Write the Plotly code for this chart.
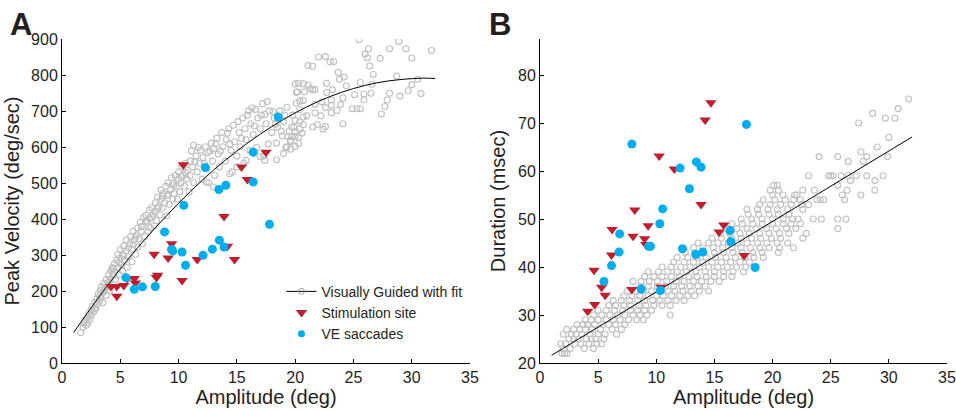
import plotly.graph_objects as go

# ---------------- Panel A data ----------------
vg_amp_a = [
    1.6, 1.8, 1.9, 2.0, 2.1, 2.2, 2.3, 2.4, 2.5, 2.5,
    2.6, 2.7, 2.8, 2.9, 3.0, 3.0, 3.1, 3.2, 3.3, 3.3,
    3.4, 3.5, 3.5, 3.6, 3.7, 3.8, 3.8, 3.9, 4.0, 4.0,
    4.1, 4.2, 4.2, 4.3, 4.4, 4.5, 4.5, 4.6, 4.7, 4.8,
    4.8, 4.9, 5.0, 5.0, 5.1, 5.2, 5.2, 5.3, 5.4, 5.5,
    5.5, 5.6, 5.7, 5.8, 5.9, 6.0, 6.0, 6.1, 6.2, 6.3,
    6.4, 6.5, 6.5, 6.6, 6.7, 6.8, 6.9, 7.0, 7.0, 7.1,
    7.2, 7.3, 7.4, 7.5, 7.5, 7.6, 7.7, 7.8, 7.9, 8.0,
    8.0, 8.1, 8.2, 8.3, 8.4, 8.5, 8.5, 8.6, 8.7, 8.8,
    8.9, 9.0, 9.0, 9.1, 9.2, 9.3, 9.4, 9.5, 9.5, 9.6,
    9.7, 9.8, 9.9, 10.0, 10.0, 10.1, 10.2, 10.3, 10.4, 10.5,
    10.6, 10.7, 10.8, 10.9, 11.0, 11.0, 11.2, 11.3, 11.3, 11.5,
    11.6, 11.8, 11.9, 12.0, 12.1, 12.3, 12.4, 12.5, 12.6, 12.8,
    12.9, 13.0, 13.1, 13.3, 13.4, 13.5, 13.7, 13.8, 14.0, 14.1,
    14.3, 14.5, 14.6, 14.7, 14.8, 15.0, 15.1, 15.2, 15.3, 15.5,
    15.6, 15.7, 15.8, 16.0, 16.1, 16.2, 16.4, 16.6, 16.7, 16.8,
    17.0, 17.2, 17.3, 17.4, 17.5, 17.7, 17.8, 18.0, 18.2, 18.4,
    18.5, 18.7, 18.9, 19.0, 19.2, 19.3, 19.5, 19.6, 19.8, 19.9,
    2.2, 2.8, 3.2, 3.6, 4.1, 4.4, 4.9, 5.3, 5.7, 6.1,
    6.3, 6.8, 7.2, 7.7, 8.2, 8.6, 9.1, 9.6, 10.2, 10.6,
    11.1, 11.4, 11.7, 12.2, 12.7, 13.2, 13.6, 14.2, 14.4, 15.4,
    15.9, 16.3, 16.5, 17.1, 17.6, 18.1, 18.3, 18.8, 19.1, 19.4,
    12.4, 13.0, 14.4, 15.0, 15.8, 17.0, 17.4, 18.4, 19.0, 19.3,
    25.5, 28.9, 26.3, 28.1, 29.5, 31.7, 26.0, 26.2, 22.0, 22.6,
    27.3, 30.0, 23.0, 23.3, 21.1, 21.5, 26.4, 23.7, 26.7, 24.2,
    23.8, 28.7, 30.5, 20.0, 20.3, 20.7, 21.1, 21.3, 21.5, 21.7,
    20.8, 20.2, 22.7, 23.2, 24.4, 25.6, 26.6, 30.0, 29.7, 30.8,
    29.0, 28.1, 27.9, 27.7, 27.4, 26.5, 25.9, 25.9, 25.1, 24.9,
    25.3, 25.6, 24.1, 23.9, 23.6, 23.1, 23.1, 23.1, 22.6, 22.3,
    21.7, 21.7, 22.2, 22.7, 24.1, 22.6, 22.4, 21.9, 21.5, 20.7,
    20.4, 20.1, 20.1, 20.4, 21.0, 20.7, 20.0, 20.4, 20.7, 20.4,
    20.0, 19.7, 20.0, 20.3, 19.6, 20.0, 19.6, 19.7, 20.3, 20.6,
]
vg_vel_a = [
    85, 100, 112, 120, 105, 128, 138, 122, 148, 132,
    158, 142, 168, 152, 178, 162, 192, 172, 202, 182,
    212, 196, 168, 222, 206, 232, 188, 216, 246, 226,
    202, 256, 236, 266, 246, 276, 256, 232, 286, 266,
    302, 246, 292, 316, 272, 302, 256, 326, 286, 312,
    342, 266, 296, 332, 352, 316, 282, 366, 342, 302,
    356, 376, 322, 346, 392, 366, 332, 406, 382, 352,
    412, 392, 366, 426, 402, 376, 432, 412, 382, 446,
    422, 396, 462, 436, 412, 482, 456, 432, 472, 446,
    492, 466, 410, 502, 442, 482, 516, 456, 500, 472,
    522, 492, 456, 512, 532, 476, 502, 546, 522, 492,
    556, 512, 536, 476, 562, 522, 546, 606, 502, 576,
    532, 556, 592, 512, 572, 602, 542, 586, 502, 612,
    562, 596, 522, 626, 582, 546, 642, 602, 562, 622,
    652, 592, 532, 662, 616, 576, 672, 642, 602, 682,
    556, 652, 622, 702, 592, 666, 636, 706, 600, 682,
    652, 722, 576, 692, 666, 610, 702, 642, 682, 612,
    656, 702, 632, 672, 600, 712, 646, 620, 690, 656,
    112, 150, 185, 200, 230, 262, 280, 298, 320, 330,
    350, 380, 395, 405, 430, 465, 470, 495, 520, 530,
    590, 560, 600, 555, 590, 610, 590, 640, 610, 625,
    690, 710, 660, 690, 728, 700, 665, 645, 690, 630,
    504, 490, 527, 546, 564, 574, 564, 566, 583, 602,
    900, 895, 875, 875, 875, 870, 860, 850, 852, 853,
    848, 849, 838, 839, 828, 826, 827, 809, 803, 796,
    790, 799, 790, 777, 779, 777, 774, 764, 761, 761,
    755, 755, 779, 761, 772, 781, 776, 775, 758, 750,
    743, 751, 732, 714, 693, 751, 749, 733, 747, 708,
    708, 708, 738, 720, 703, 697, 732, 718, 711, 727,
    720, 696, 688, 753, 666, 658, 651, 664, 657, 731,
    729, 753, 724, 705, 688, 685, 675, 672, 664, 651,
    644, 631, 631, 628, 617, 603, 595, 657, 611, 640,
]

fit_amp_a = [1, 3, 5, 7, 9, 11, 13, 15, 17, 19, 21, 23, 25, 27, 29, 31, 32]
fit_vel_a = [85, 176, 262, 340, 411, 477, 537, 590, 637, 678, 713, 742, 764, 780, 789, 793, 792]

stim_amp_a = [4.2, 4.7, 4.7, 5.3, 5.6, 6.2, 6.3, 7.9, 8.1, 8.2, 9.1,
              9.4, 10.3, 10.4, 11.6, 13.9, 14.2, 14.8, 15.4, 15.9, 17.5]
stim_vel_a = [213, 213, 186, 216, 235, 235, 223, 303, 238, 244, 292,
              332, 230, 552, 288, 408, 325, 288, 546, 511, 587]

ve_amp_a = [5.5, 6.2, 6.9, 8.0, 8.8, 9.4, 9.5, 10.3, 10.6, 10.45, 12.1,
            12.3, 12.9, 13.45, 13.5, 13.9, 14.05, 16.4, 16.4, 17.8, 18.55]
ve_vel_a = [237, 205, 212, 213, 365, 316, 312, 309, 272, 439, 300,
            544, 317, 483, 342, 323, 495, 587, 504, 386, 685]

# ---------------- Panel B data ----------------
vg_dur_levels_b = [22, 23, 24, 25, 26, 27, 28, 29, 30, 31, 32, 33, 34, 35, 36, 37,
                   38, 39, 40, 41, 42, 43, 44, 45, 46, 47, 48, 49, 50, 51, 52, 53,
                   54, 55, 56, 57, 58, 59, 62, 63, 64, 65, 67, 70, 71, 72, 73, 75]
vg_amp_by_level_b = [
    [1.9, 2.1, 2.3],
    [2.0, 2.6, 3.8, 4.6],
    [1.8, 2.2, 3.0, 3.5, 4.2, 4.9, 5.3],
    [2.5, 2.9, 3.3, 4.0, 4.4, 4.8, 5.5],
    [2.0, 2.7, 3.1, 3.6, 4.3, 5.0, 5.6, 6.6],
    [2.3, 2.9, 3.4, 3.9, 4.5, 5.2, 6.2, 7.0],
    [3.2, 3.7, 4.1, 4.7, 5.4, 5.9, 6.5, 7.3],
    [3.9, 4.4, 5.0, 5.7, 6.3, 6.9, 7.6, 8.3, 8.9],
    [4.6, 5.3, 6.0, 6.7, 7.3, 8.0, 8.6, 9.2, 11.2],
    [5.0, 5.7, 6.4, 7.1, 7.8, 8.4, 9.0, 9.6],
    [5.9, 6.5, 7.2, 7.8, 8.5, 9.1, 9.8, 10.5, 11.2],
    [6.3, 7.0, 7.7, 8.4, 9.0, 9.7, 10.3, 11.0, 11.7, 12.4],
    [7.2, 7.9, 8.6, 9.3, 10.0, 10.6, 11.3, 12.0, 12.7, 13.3],
    [7.5, 8.2, 8.9, 9.6, 10.3, 11.0, 11.6, 12.3, 13.0, 13.7, 14.5],
    [8.6, 9.3, 10.1, 10.8, 11.5, 12.2, 12.9, 13.6, 14.2],
    [8.0, 8.7, 9.4, 10.1, 10.9, 11.7, 12.4, 13.2, 13.9, 14.7, 15.4],
    [9.0, 9.8, 10.5, 11.3, 12.0, 12.8, 13.5, 14.3, 15.0, 15.8, 16.5],
    [9.3, 10.2, 11.0, 11.8, 12.6, 13.4, 14.2, 15.0, 15.8, 16.6, 17.5],
    [10.5, 11.3, 12.1, 12.9, 13.7, 14.5, 15.3, 16.1, 16.9, 17.7],
    [11.5, 12.4, 13.2, 14.0, 14.8, 15.6, 16.4, 17.2, 18.0],
    [11.8, 12.7, 13.5, 14.3, 15.1, 16.0, 16.8, 17.6, 18.4, 19.2],
    [12.5, 13.3, 14.1, 15.0, 15.8, 16.6, 17.4, 18.3, 19.1, 20.5],
    [13.2, 14.0, 14.9, 15.7, 16.5, 17.3, 18.1, 18.9, 19.7, 20.6, 21.8],
    [13.6, 14.5, 15.3, 16.2, 17.0, 17.8, 18.7, 19.5, 20.4, 21.3],
    [14.8, 15.6, 16.5, 17.3, 18.2, 19.0, 19.9, 20.7, 22.6],
    [15.5, 16.3, 17.2, 18.0, 18.9, 19.7, 20.6, 21.4, 22.9],
    [16.0, 16.9, 17.8, 18.6, 19.5, 20.3, 21.2, 22.0, 25.6],
    [16.5, 17.4, 18.3, 19.1, 20.0, 20.9, 21.6, 22.4],
    [17.3, 18.2, 19.1, 20.0, 20.9, 21.7, 22.2, 23.5, 24.2, 25.6, 26.3],
    [17.9, 18.8, 19.7, 20.5, 21.4],
    [17.8, 18.7, 19.6, 20.4, 21.3, 22.6],
    [18.9, 19.8, 20.7, 21.6, 22.5, 23.1],
    [19.2, 20.2, 21.1, 21.8, 22.4, 23.8, 24.1, 24.4, 26.2],
    [20.0, 20.9, 21.9, 22.1, 26.0, 27.6],
    [19.8, 20.5, 22.6, 23.6, 26.4, 28.8],
    [20.1, 20.4, 25.6],
    [26.7, 28.8],
    [23.1, 24.8, 25.0, 25.2, 25.9, 26.5, 27.2, 28.1, 29.5],
    [26.5, 27.8],
    [24.0, 25.6, 28.1, 29.9],
    [27.6],
    [29.0],
    [30.0],
    [27.4],
    [29.7, 30.5],
    [28.6],
    [30.8],
    [31.7],
]

fit_amp_b = [1.0, 32.0]
fit_dur_b = [21.6, 67.1]

stim_amp_b = [4.1, 4.7, 4.65, 5.3, 5.6, 6.2, 6.15, 7.9, 8.0, 8.15, 9.0,
              9.1, 9.3, 10.25, 10.4, 11.55, 13.85, 14.2, 14.7, 15.4, 15.8, 17.55]
stim_dur_b = [30.8, 32.2, 39.3, 35.8, 34.1, 47.8, 42.5, 35.3, 46.4, 51.9, 45.9,
              44.7, 48.6, 63.1, 35.8, 60.4, 53.0, 70.6, 74.2, 47.3, 48.75, 42.4]

ve_amp_b = [5.5, 6.15, 6.8, 6.85, 7.9, 8.7, 9.35, 9.5, 10.3, 10.55, 10.35,
            12.05, 12.25, 12.85, 13.4, 13.45, 13.85, 14.0, 16.35, 16.4, 17.75, 18.5]
ve_dur_b = [37.0, 40.3, 43.1, 46.9, 65.6, 35.4, 44.3, 44.3, 49.0, 52.1, 35.1,
            60.6, 43.8, 56.3, 42.6, 61.9, 60.8, 43.1, 47.6, 45.3, 69.7, 39.9]

x_ticks = [0, 5, 10, 15, 20, 25, 30, 35]
vel_ticks = [0, 100, 200, 300, 400, 500, 600, 700, 800, 900]
dur_ticks = [20, 30, 40, 50, 60, 70, 80]

legend_names = ["Visually Guided with fit", "Stimulation site", "VE saccades"]

# flatten panel B rows
vg_amp_b, vg_dur_b = [], []
for d, row in zip(vg_dur_levels_b, vg_amp_by_level_b):
    for a in row:
        vg_amp_b.append(a)
        vg_dur_b.append(d)

GRAY = "#bfbfbf"
RED = "#be1e2d"
BLUE = "#00aeef"
TXT = "#231f20"
FONT = "Liberation Sans, Arial, sans-serif"

gray_marker = dict(symbol="circle-open", size=6, color=GRAY, line=dict(width=1.1, color=GRAY))
red_marker = dict(symbol="triangle-down", size=10, color=RED, line=dict(width=0))
blue_marker = dict(symbol="circle", size=9, color=BLUE, line=dict(width=0))

fig = go.Figure()

for xa, ya, gx, gy, fx, fy, sx, sy, vx, vy, shape in [
    ("x", "y", vg_amp_a, vg_vel_a, fit_amp_a, fit_vel_a, stim_amp_a, stim_vel_a, ve_amp_a, ve_vel_a, "spline"),
    ("x2", "y2", vg_amp_b, vg_dur_b, fit_amp_b, fit_dur_b, stim_amp_b, stim_dur_b, ve_amp_b, ve_dur_b, "linear"),
]:
    fig.add_trace(go.Scatter(x=gx, y=gy, mode="markers", marker=gray_marker,
                             xaxis=xa, yaxis=ya, showlegend=False, hoverinfo="skip"))
    fig.add_trace(go.Scatter(x=fx, y=fy, mode="lines", line=dict(color="black", width=1, shape=shape),
                             xaxis=xa, yaxis=ya, showlegend=False, hoverinfo="skip"))
    fig.add_trace(go.Scatter(x=sx, y=sy, mode="markers", marker=red_marker,
                             xaxis=xa, yaxis=ya, showlegend=False))
    fig.add_trace(go.Scatter(x=vx, y=vy, mode="markers", marker=blue_marker,
                             xaxis=xa, yaxis=ya, showlegend=False))

# legend-only entries
fig.add_trace(go.Scatter(x=[None], y=[None], mode="lines+markers", name=legend_names[0],
                         line=dict(color="black", width=1),
                         marker=dict(symbol="circle-open", size=6, color="#9a9a9a", line=dict(width=1)),
                         xaxis="x", yaxis="y"))
fig.add_trace(go.Scatter(x=[None], y=[None], mode="markers", name=legend_names[1],
                         marker=red_marker, xaxis="x", yaxis="y"))
fig.add_trace(go.Scatter(x=[None], y=[None], mode="markers", name=legend_names[2],
                         marker=dict(symbol="circle", size=7, color=BLUE), xaxis="x", yaxis="y"))

axis_common = dict(showline=True, linecolor="black", linewidth=1, ticks="inside",
                   ticklen=4, tickwidth=1, tickcolor="black", showgrid=False, zeroline=False,
                   tickfont=dict(size=16, color=TXT, family=FONT), mirror=False,
                   automargin=False)

fig.update_layout(
    width=956, height=410,
    margin=dict(l=62, r=9, t=39, b=47),
    paper_bgcolor="white", plot_bgcolor="white",
    font=dict(family=FONT, color=TXT),
    xaxis=dict(domain=[0, 0.461], range=[0, 35], tickvals=x_ticks, anchor="y",
               title=dict(text="Amplitude (deg)", font=dict(size=20, color=TXT), standoff=2),
               **axis_common),
    yaxis=dict(domain=[0, 1], range=[0, 902], tickvals=vel_ticks, anchor="x",
               title=dict(text="Peak Velocity (deg/sec)", font=dict(size=20, color=TXT), standoff=6),
               **axis_common),
    xaxis2=dict(domain=[0.5401, 1.0], range=[0, 35], tickvals=x_ticks, anchor="y2",
                title=dict(text="Amplitude (deg)", font=dict(size=20, color=TXT), standoff=2),
                **axis_common),
    yaxis2=dict(domain=[0, 1], range=[20, 87.5], tickvals=dur_ticks, anchor="x2",
                title=dict(text="Duration (msec)", font=dict(size=20, color=TXT), standoff=6),
                **axis_common),
    legend=dict(x=0.248, y=0.155, xanchor="left", yanchor="middle", bgcolor="rgba(0,0,0,0)",
                font=dict(size=14, color=TXT, family=FONT), itemwidth=30,
                tracegroupgap=0),
    showlegend=True,
    annotations=[
        dict(text="<b>A</b>", xref="paper", yref="paper", x=-0.061, y=1.046,
             xanchor="left", yanchor="middle", showarrow=False,
             font=dict(size=31, color=TXT, family=FONT)),
        dict(text="<b>B</b>", xref="paper", yref="paper", x=0.480, y=1.046,
             xanchor="left", yanchor="middle", showarrow=False,
             font=dict(size=31, color=TXT, family=FONT)),
    ],
)

fig.write_html("out.html", config={"displayModeBar": False},
               post_script="document.body.style.margin='0';document.body.style.padding='0';")
